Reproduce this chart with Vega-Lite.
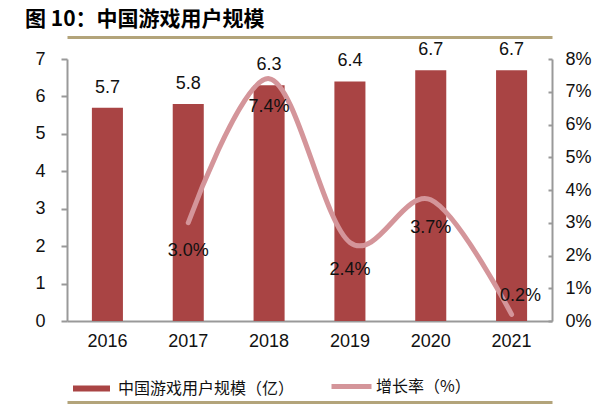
{
  "$schema": "https://vega.github.io/schema/vega-lite/v6.json",
  "autosize": {"type": "none"},
  "width": 485,
  "height": 262,
  "padding": {"left": 67, "top": 59, "right": 63, "bottom": 85},
  "background": "white",
  "title": {
    "text": "图 10：中国游戏用户规模",
    "anchor": "start",
    "frame": "group",
    "dx": -42,
    "offset": 7,
    "font": "Noto Sans CJK SC",
    "fontSize": 21,
    "fontWeight": "bold",
    "color": "#000000"
  },
  "data": {
    "values": [
      {"year": "2016", "users": 5.7, "growth": null},
      {"year": "2017", "users": 5.8, "growth": 0.030},
      {"year": "2018", "users": 6.3, "growth": 0.074},
      {"year": "2019", "users": 6.4, "growth": 0.024},
      {"year": "2020", "users": 6.7, "growth": 0.037},
      {"year": "2021", "users": 6.7, "growth": 0.002}
    ]
  },
  "config": {
    "view": {"stroke": null},
    "font": "Liberation Sans",
    "axis": {"grid": false, "labelFont": "Liberation Sans", "labelFontSize": 18, "labelColor": "#111111"}
  },
  "layer": [
    {
      "mark": {"type": "bar"},
      "encoding": {
        "x": {
          "field": "year",
          "type": "nominal",
          "sort": null,
          "scale": {"paddingInner": 0.616, "paddingOuter": 0.308},
          "axis": {
            "orient": "bottom",
            "title": null,
            "labelAngle": 0,
            "ticks": false,
            "domainColor": "#999999",
            "domainWidth": 2,
            "labelPadding": 11
          }
        },
        "y": {
          "field": "users",
          "type": "quantitative",
          "scale": {"domain": [0, 7], "nice": false},
          "axis": {
            "orient": "left",
            "title": null,
            "values": [0, 1, 2, 3, 4, 5, 6, 7],
            "domainColor": "#999999",
            "domainWidth": 2,
            "tickColor": "#999999",
            "tickWidth": 2,
            "tickSize": 6,
            "labelPadding": 16
          }
        },
        "fill": {
          "datum": "中国游戏用户规模（亿）",
          "scale": {"range": ["#A94444"]},
          "legend": {
            "orient": "none",
            "legendX": 6,
            "legendY": 311,
            "title": null,
            "padding": 0,
            "symbolType": "M-1,-0.16H1V0.16H-1Z",
            "symbolSize": 1369,
            "symbolStrokeWidth": 0,
            "labelFont": "Noto Sans CJK SC",
            "labelFontSize": 16,
            "labelColor": "#111111",
            "labelOffset": 8,
            "labelLimit": 400
          }
        }
      }
    },
    {
      "encoding": {
        "x": {
          "field": "year",
          "type": "nominal",
          "sort": null,
          "axis": {
            "orient": "top",
            "offset": 22,
            "title": null,
            "labels": false,
            "ticks": false,
            "domainColor": "#B3A47A",
            "domainWidth": 3
          }
        },
        "y": {
          "field": "growth",
          "type": "quantitative",
          "scale": {"domain": [0, 0.08], "nice": false},
          "axis": {
            "orient": "right",
            "title": null,
            "values": [0, 0.01, 0.02, 0.03, 0.04, 0.05, 0.06, 0.07, 0.08],
            "format": ".0%",
            "domainColor": "#999999",
            "domainWidth": 2,
            "tickColor": "#999999",
            "tickWidth": 2,
            "tickSize": -4,
            "labelPadding": 17
          }
        }
      },
      "transform": [{"filter": "datum.growth != null"}],
      "layer": [
        {
          "mark": {"type": "line", "interpolate": "cardinal", "strokeWidth": 5, "strokeCap": "round"},
          "encoding": {
            "stroke": {
              "datum": "增长率（%）",
              "scale": {"range": ["#D4959A"]},
              "legend": {
                "orient": "none",
                "legendX": 262,
                "legendY": 305,
                "title": null,
                "padding": 0,
                "symbolType": "stroke",
                "symbolSize": 1600,
                "symbolStrokeWidth": 5,
                "labelFont": "Noto Sans CJK SC",
                "labelFontSize": 16,
                "labelColor": "#111111",
                "labelOffset": 2,
                "labelLimit": 400
              }
            }
          }
        },
        {
          "transform": [{"filter": "datum.year != '2021'"}],
          "mark": {"type": "text", "fontSize": 18, "baseline": "middle", "dy": 28, "color": "#111111"},
          "encoding": {"text": {"field": "growth", "format": ".1%"}}
        },
        {
          "transform": [{"filter": "datum.year == '2021'"}],
          "mark": {"type": "text", "fontSize": 18, "baseline": "middle", "dy": -18, "dx": 9, "color": "#111111"},
          "encoding": {"text": {"field": "growth", "format": ".1%"}}
        }
      ]
    },
    {
      "mark": {"type": "text", "fontSize": 18, "baseline": "middle", "dy": -20, "color": "#111111"},
      "encoding": {
        "x": {
          "field": "year",
          "type": "nominal",
          "sort": null,
          "axis": {
            "orient": "bottom",
            "offset": 81,
            "title": null,
            "labels": false,
            "ticks": false,
            "domainColor": "#B3A47A",
            "domainWidth": 3
          }
        },
        "y": {
          "field": "users",
          "type": "quantitative",
          "scale": {"domain": [0, 7], "nice": false},
          "axis": null
        },
        "text": {"field": "users", "type": "quantitative", "format": ".1f"}
      }
    }
  ],
  "resolve": {
    "scale": {"y": "independent"},
    "axis": {"x": "independent", "y": "independent"}
  }
}
